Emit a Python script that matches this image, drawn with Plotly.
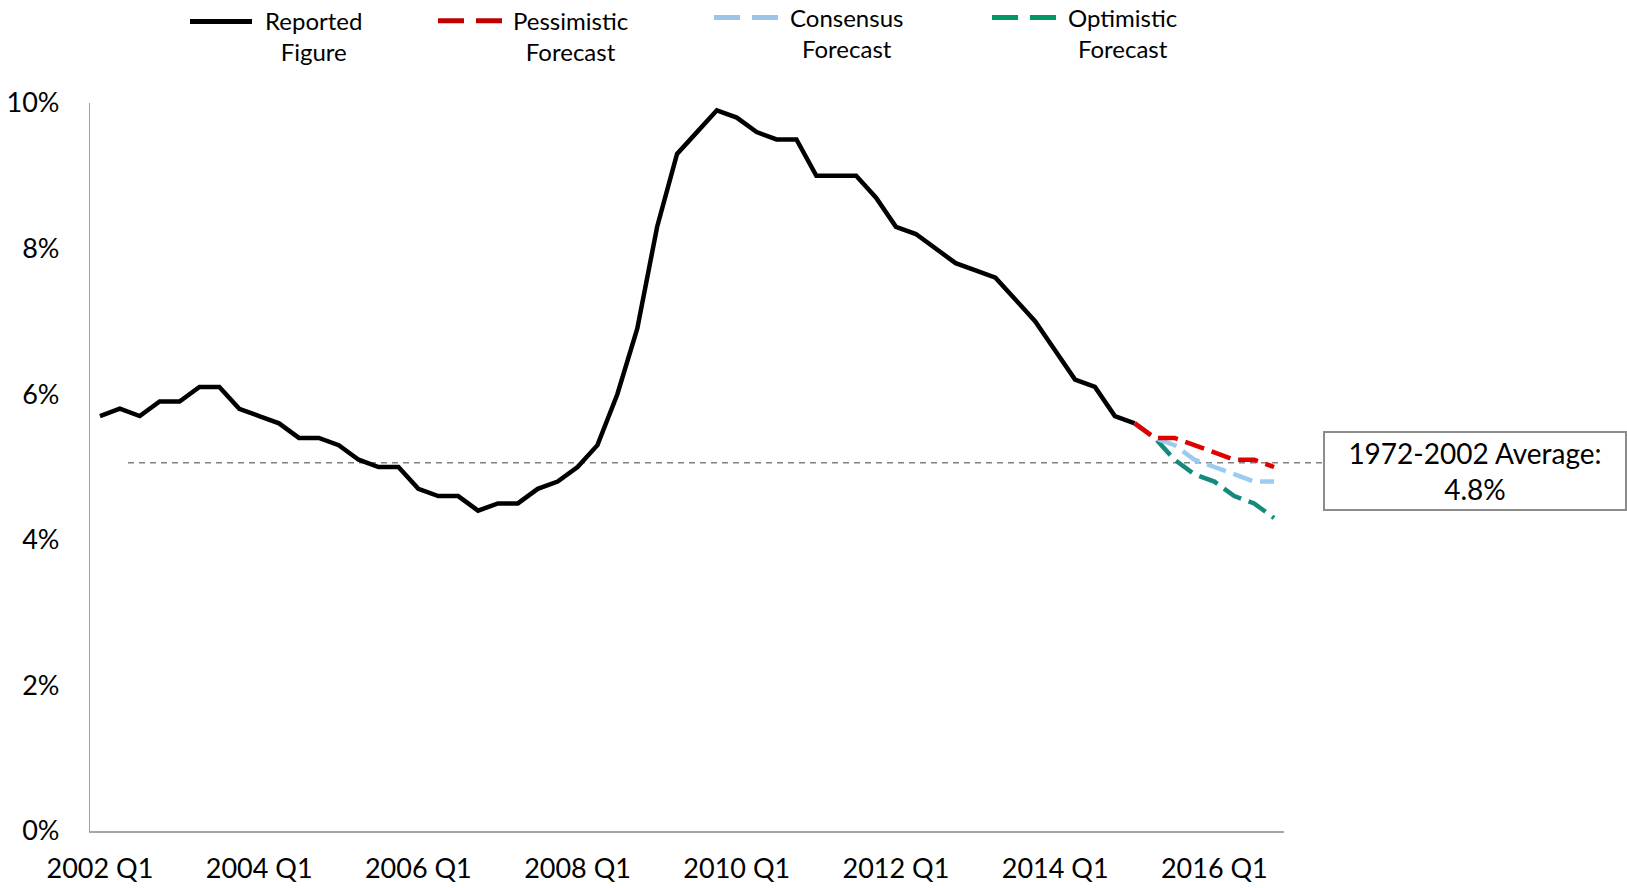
import plotly.graph_objects as go

# ---------------- data ----------------
years = list(range(2002, 2017))
quarters = [f"{y} Q{q}" for y in years for q in range(1, 5)]
tick_labels = ["2002 Q1", "2004 Q1", "2006 Q1", "2008 Q1",
               "2010 Q1", "2012 Q1", "2014 Q1", "2016 Q1"]

reported = [5.7, 5.8, 5.7, 5.9, 5.9, 6.1, 6.1, 5.8,
            5.7, 5.6, 5.4, 5.4, 5.3, 5.1, 5.0, 5.0,
            4.7, 4.6, 4.6, 4.4, 4.5, 4.5, 4.7, 4.8,
            5.0, 5.3, 6.0, 6.9, 8.3, 9.3, 9.6, 9.9,
            9.8, 9.6, 9.5, 9.5, 9.0, 9.0, 9.0, 8.7,
            8.3, 8.2, 8.0, 7.8, 7.7, 7.6, 7.3, 7.0,
            6.6, 6.2, 6.1, 5.7, 5.6]
forecast_quarters = quarters[52:]
pessimistic = [5.6, 5.4, 5.4, 5.3, 5.2, 5.1, 5.1, 5.0]
consensus = [5.6, 5.4, 5.3, 5.1, 5.0, 4.9, 4.8, 4.8]
optimistic = [5.6, 5.4, 5.1, 4.9, 4.8, 4.6, 4.5, 4.3]

average_line_level = 5.06
average_label = "1972-2002 Average:<br>4.8%"

y_ticks = [0, 2, 4, 6, 8, 10]
y_tick_labels = ["0%", "2%", "4%", "6%", "8%", "10%"]

# ---------------- styling ----------------
FONT = "Lato"
BLACK = "#000000"
RED = "#e00000"
LIGHTBLUE = "#9ccbf2"
TEAL = "#138a7d"
RED_LEG = "#c00000"
BLUE_LEG = "#9dc3e6"
GREEN_LEG = "#009966"

W, H = 1627, 888
# plot area in page pixels
L, R, T, B = 90, 1284, 103, 831


def px(xp):
    return (xp - L) / (R - L)


def py(yp):
    return (B - yp) / (B - T)


fig = go.Figure()
fig.add_trace(go.Scatter(x=quarters[:len(reported)], y=reported, mode="lines",
                         line=dict(color=BLACK, width=4.5), name="Reported Figure",
                         showlegend=False))
fig.add_trace(go.Scatter(x=forecast_quarters, y=optimistic, mode="lines",
                         line=dict(color=TEAL, width=4.5, dash="20px,8px"),
                         name="Optimistic Forecast", showlegend=False))
fig.add_trace(go.Scatter(x=forecast_quarters, y=consensus, mode="lines",
                         line=dict(color=LIGHTBLUE, width=4.5, dash="20px,8px"),
                         name="Consensus Forecast", showlegend=False))
fig.add_trace(go.Scatter(x=forecast_quarters, y=pessimistic, mode="lines",
                         line=dict(color=RED, width=4.5, dash="20px,8px"),
                         name="Pessimistic Forecast", showlegend=False))

shapes = []
annotations = []

# average reference line
shapes.append(dict(type="line", xref="paper", yref="y",
                   x0=px(128), x1=px(1322), y0=average_line_level, y1=average_line_level,
                   line=dict(color="#808080", width=1.5, dash="6px,5px"), layer="below"))
annotations.append(dict(xref="paper", yref="paper", x=px(1474.5), y=py(470.7),
                        text=average_label, showarrow=False, align="center",
                        font=dict(family=FONT, size=28, color="#000"),
                        bordercolor="#8c8c8c", borderwidth=2, borderpad=0,
                        bgcolor="white", width=300, height=76,
                        xanchor="center", yanchor="middle"))

# custom legend
legend_items = [
    ("Reported<br>Figure", BLACK, "solid", 190, 252, 21.5, 313, 36),
    ("Pessimistic<br>Forecast", RED_LEG, "26px,12px", 438, 503, 20.7, 570, 36),
    ("Consensus<br>Forecast", BLUE_LEG, "26px,12px", 714, 778, 17.6, 846, 33),
    ("Optimistic<br>Forecast", GREEN_LEG, "26px,12px", 992, 1056, 17.6, 1122, 33),
]
for text, col, dash, x0, x1, ys, xc, yc in legend_items:
    shapes.append(dict(type="line", xref="paper", yref="paper",
                       x0=px(x0), x1=px(x1), y0=py(ys), y1=py(ys),
                       line=dict(color=col, width=5, dash=dash)))
    annotations.append(dict(xref="paper", yref="paper", x=px(xc), y=py(yc),
                            text=text, showarrow=False, align="center",
                            xanchor="center", yanchor="middle",
                            font=dict(family=FONT, size=24, color="#000")))

fig.update_layout(
    width=W, height=H,
    margin=dict(l=L, r=W - R, t=T, b=H - B, pad=0, autoexpand=False),
    paper_bgcolor="white", plot_bgcolor="white",
    showlegend=False,
    font=dict(family=FONT, size=27, color="#000"),
    shapes=shapes, annotations=annotations,
    xaxis=dict(type="category", categoryorder="array", categoryarray=quarters,
               range=[-0.5, len(quarters) - 0.5],
               tickmode="array", tickvals=tick_labels, ticktext=tick_labels,
               showline=True, linecolor="#a6a6a6", linewidth=2,
               showgrid=False, zeroline=False, ticks="",
               ticklabelstandoff=13, tickangle=0, automargin=False,
               tickfont=dict(family=FONT, size=27)),
    yaxis=dict(range=[0, 10], tickmode="array", tickvals=y_ticks, ticktext=y_tick_labels,
               showline=True, linecolor="#a0a0a0", linewidth=1.3,
               showgrid=False, zeroline=False, ticks="",
               ticklabelstandoff=24, automargin=False,
               tickfont=dict(family=FONT, size=27)),
)

fig.write_html("out.html", config={"displayModeBar": False},
               post_script="document.body.style.margin='0';document.body.style.overflow='hidden';")
